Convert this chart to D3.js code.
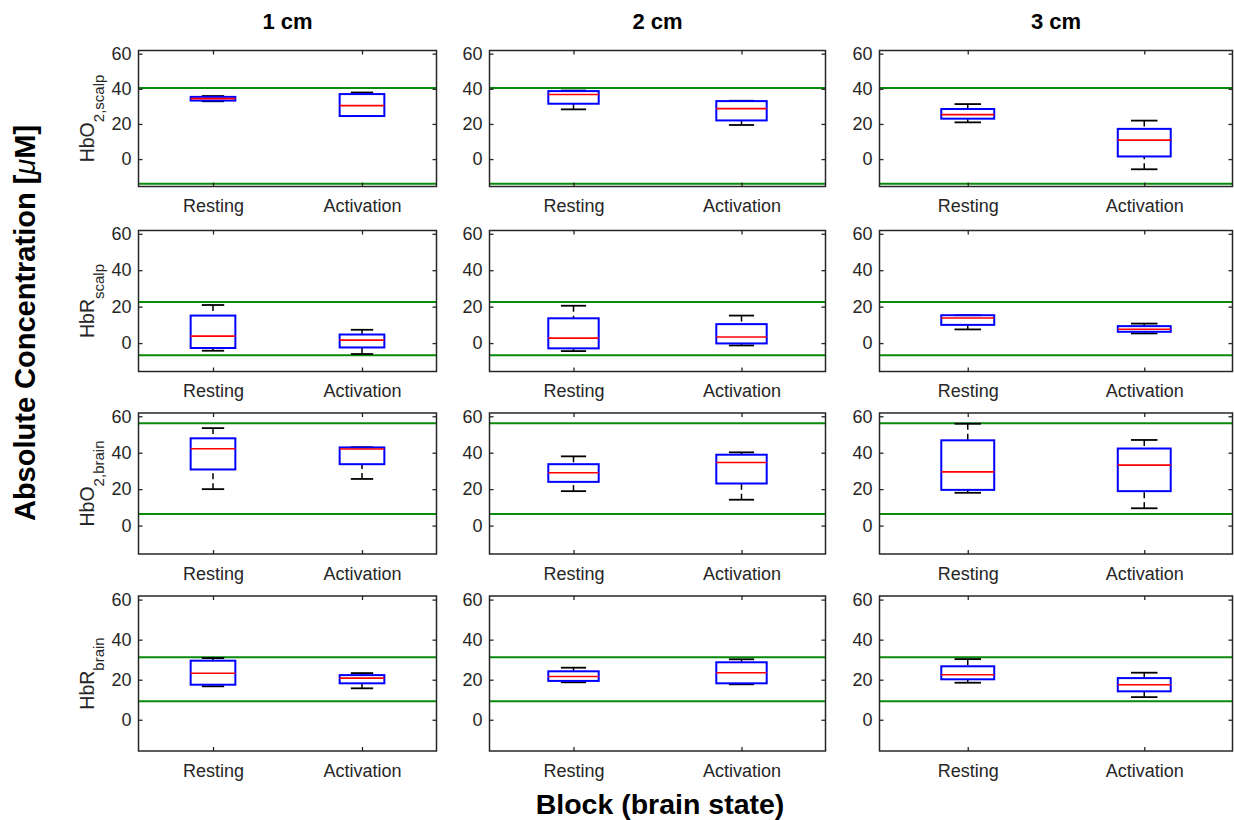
<!DOCTYPE html>
<html><head><meta charset="utf-8">
<script src="https://cdn.jsdelivr.net/npm/d3@7"></script>
<style>
body{margin:0;background:#fff}
text{font-family:"Liberation Sans",Arial,Helvetica,sans-serif}
</style>
</head><body>
<svg id="c" width="1234" height="820"></svg>
<script>
// ---------- data ----------
const columnTitles = ["1 cm", "2 cm", "3 cm"];
const categories = ["Resting", "Activation"];
const yTicks = [0, 20, 40, 60];
const yDomain = [-15.6, 61.8];
const rowLabelMain = ["HbO", "HbR", "HbO", "HbR"];
const rowLabelSub = ["2,scalp", "scalp", "2,brain", "brain"];
const refUpper = [40.5, 22.5, 56.2, 31.2];
const refLower = [-14.1, -6.7, 6.4, 9.2];
// per column: [Resting, Activation], each [lower whisker, Q1, median, Q3, upper whisker]
const hbo2Scalp = [
  [[32.9, 33.3, 34.4, 35.4, 35.9], [24.5, 24.5, 30.4, 37.0, 37.9]],
  [[28.3, 31.5, 36.8, 38.7, 39.0], [19.4, 22.0, 28.7, 33.0, 33.2]],
  [[20.9, 23.0, 25.3, 28.5, 31.3], [-5.8, 1.5, 10.8, 17.2, 21.9]]
];
const hbrScalp = [
  [[-4.2, -2.7, 3.8, 15.1, 20.9], [-6.0, -2.4, 1.6, 4.7, 7.3]],
  [[-4.4, -2.9, 2.7, 13.6, 20.5], [-1.3, -0.2, 3.3, 10.4, 15.1]],
  [[7.5, 10.0, 13.8, 15.3, 15.3], [5.3, 6.2, 7.6, 9.3, 10.7]]
];
const hbo2Brain = [
  [[20.0, 30.8, 42.2, 47.9, 53.5], [25.6, 33.7, 42.0, 42.9, 43.0]],
  [[18.9, 24.0, 29.0, 33.7, 38.0], [14.2, 23.1, 34.6, 38.9, 40.2]],
  [[18.0, 19.6, 29.5, 46.8, 55.9], [9.5, 18.9, 33.2, 42.3, 47.0]]
];
const hbrBrain = [
  [[16.7, 17.5, 23.2, 29.5, 30.8], [15.7, 18.2, 20.8, 22.3, 23.3]],
  [[18.7, 19.4, 21.6, 24.2, 26.0], [17.7, 18.2, 23.5, 28.7, 30.2]],
  [[18.5, 20.2, 22.5, 26.7, 30.3], [11.3, 14.2, 17.5, 20.8, 23.5]]
];
const rowStats = [hbo2Scalp, hbrScalp, hbo2Brain, hbrBrain];

// ---------- layout ----------
const colX = [[138.5, 436.5], [489.5, 825.5], [879.5, 1232.5]];
const rowY = [[50.5, 186.5], [230.5, 371.5], [413, 554], [596, 751]];
const axisColor = "#262626";
const boxWidth = 0.3, capWidth = 0.15;

const svg = d3.select("#c");

rowY.forEach((ry, r) => {
  colX.forEach((cx, c) => {
    const x = d3.scaleLinear().domain([0.5, 2.5]).range(cx);
    const y = d3.scaleLinear().domain(yDomain).range([ry[1], ry[0]]);
    const g = svg.append("g");

    // reference lines
    [refUpper[r], refLower[r]].forEach(v => {
      g.append("line").attr("x1", cx[0]).attr("x2", cx[1])
        .attr("y1", y(v)).attr("y2", y(v))
        .attr("stroke", "#0a8a0a").attr("stroke-width", 2);
    });

    // boxes
    rowStats[r][c].forEach((s, i) => {
      const xc = x(i + 1);
      const [lo, q1, med, q3, hi] = s;
      const bw = x(1 + boxWidth / 2) - x(1);
      const cw = x(1 + capWidth / 2) - x(1);
      [[hi, q3], [lo, q1]].forEach(([a, b]) => {
        if (Math.abs(a - b) > 0.01) {
          g.append("line").attr("x1", xc).attr("x2", xc)
            .attr("y1", y(a)).attr("y2", y(b))
            .attr("stroke", "#000").attr("stroke-width", 1.5)
            .attr("stroke-dasharray", "6,4");
        }
        g.append("line").attr("x1", xc - cw).attr("x2", xc + cw)
          .attr("y1", y(a)).attr("y2", y(a))
          .attr("stroke", "#000").attr("stroke-width", 1.8);
      });
      g.append("rect").attr("x", xc - bw).attr("width", 2 * bw)
        .attr("y", y(q3)).attr("height", Math.max(0.5, y(q1) - y(q3)))
        .attr("fill", "none").attr("stroke", "#0000ff").attr("stroke-width", 2);
      g.append("line").attr("x1", xc - bw).attr("x2", xc + bw)
        .attr("y1", y(med)).attr("y2", y(med))
        .attr("stroke", "#ff0000").attr("stroke-width", 1.6);
    });

    // axes
    const fmt = d => categories[d - 1];
    const ax = [
      d3.axisLeft(y).tickValues(yTicks).tickSize(-4).tickPadding(7),
      d3.axisRight(y).tickValues(yTicks).tickSize(-4).tickFormat(""),
      d3.axisBottom(x).tickValues([1, 2]).tickSize(-4).tickPadding(13).tickFormat(fmt),
      d3.axisTop(x).tickValues([1, 2]).tickSize(-4).tickFormat("")
    ];
    const pos = [[cx[0], 0], [cx[1], 0], [0, ry[1]], [0, ry[0]]];
    ax.forEach((a, k) => {
      const ag = g.append("g").attr("transform", `translate(${pos[k][0]},${pos[k][1]})`).call(a);
      ag.select(".domain").remove();
      ag.selectAll("line").attr("stroke", axisColor).attr("stroke-width", 1.3);
      ag.selectAll("text").attr("fill", axisColor).style("font-size", "18px")
        .style("font-family", '"Liberation Sans",Arial,sans-serif');
    });
    g.append("rect").attr("x", cx[0]).attr("y", ry[0])
      .attr("width", cx[1] - cx[0]).attr("height", ry[1] - ry[0])
      .attr("fill", "none").attr("stroke", axisColor).attr("stroke-width", 1.5);

    // row label
    if (c === 0) {
      const t = svg.append("text")
        .attr("transform", `translate(94,${(ry[0] + ry[1]) / 2}) rotate(-90)`)
        .attr("text-anchor", "middle").attr("fill", axisColor).style("font-size", "19.5px");
      t.append("tspan").text(rowLabelMain[r]);
      t.append("tspan").attr("dy", 10).style("font-size", "15px").text(rowLabelSub[r]);
    }
    // column title
    if (r === 0) {
      svg.append("text").attr("x", (cx[0] + cx[1]) / 2).attr("y", 29)
        .attr("text-anchor", "middle").attr("fill", "#000")
        .style("font-size", "22px").style("font-weight", "bold").text(columnTitles[c]);
    }
  });
});

// super labels
const yl = svg.append("text")
  .attr("transform", "translate(35,323) rotate(-90)")
  .attr("text-anchor", "middle").attr("fill", "#000")
  .style("font-size", "29px").style("font-weight", "bold");
yl.append("tspan").text("Absolute Concentration [");
yl.append("tspan").style("font-style", "italic").style("font-weight", "normal").text("μ");
yl.append("tspan").text("M]");

svg.append("text").attr("x", 660).attr("y", 814)
  .attr("text-anchor", "middle").attr("fill", "#000")
  .style("font-size", "28.5px").style("font-weight", "bold").text("Block (brain state)");
</script>
</body></html>
